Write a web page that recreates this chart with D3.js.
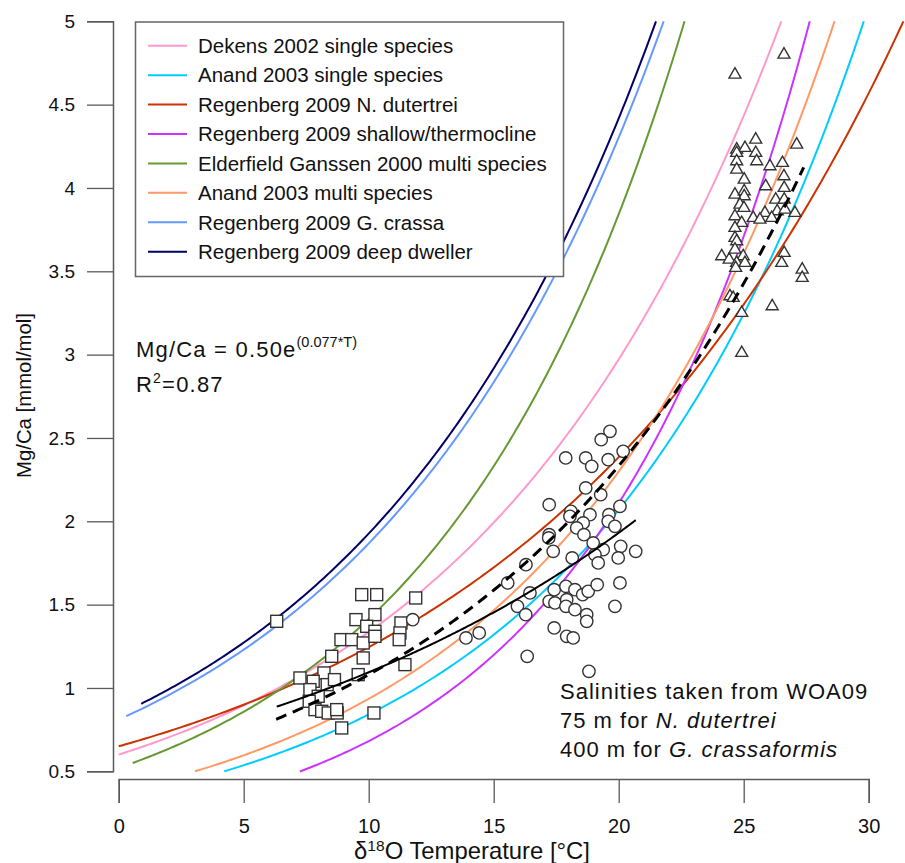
<!DOCTYPE html>
<html>
<head>
<meta charset="utf-8">
<script src="https://cdn.jsdelivr.net/npm/d3@7/dist/d3.min.js"></script>
<style>
  html, body { margin: 0; padding: 0; background: #fff; }
  svg { display: block; font-family: "Liberation Sans", Arial, Helvetica, sans-serif; }
</style>
</head>
<body>
<svg id="chart" width="905" height="863"></svg>
<script>
// Calibration curves: Mg/Ca = pre * exp(expo * T)
const calibNames = [
  "Dekens 2002 single species",
  "Anand 2003 single species",
  "Regenberg 2009 N. dutertrei",
  "Regenberg 2009 shallow/thermocline",
  "Elderfield Ganssen 2000 multi species",
  "Anand 2003 multi species",
  "Regenberg 2009 G. crassa",
  "Regenberg 2009 deep dweller"
];
const calibPre   = [0.60, 0.342, 0.65, 0.22, 0.52, 0.38, 0.81, 0.84];
const calibExpo  = [0.080, 0.090, 0.065, 0.113, 0.100, 0.090, 0.0835, 0.083];
const calibTmin  = [0.0, 4.22, 0.0, 7.25, 0.56, 3.05, 0.3, 0.9];
const calibColor = ["#ff99cc", "#00ccff", "#cc3300", "#cc33ff", "#669933", "#ff9966", "#6699ff", "#000066"];

// Fitted relationships drawn in black
const fitPre   = [0.50, 0.62];
const fitExpo  = [0.077, 0.0568];
const fitTmin  = [6.3, 6.32];
const fitTmax  = [27.4, 20.68];
const fitDash  = ["11,7", null];

// G. crassaformis (squares)
const sqT  = [6.32, 9.72, 10.32, 11.88, 10.25, 9.49, 9.92, 10.25, 11.29, 11.25, 11.22, 8.89, 9.32, 9.78, 10.25,
              8.52, 9.78, 11.45, 9.58, 8.21, 7.25, 7.78, 8.34, 8.63, 7.65, 7.98, 7.62, 7.85, 8.12, 8.38, 8.74,
              8.72, 10.21, 8.92];
const sqMg = [1.40, 1.56, 1.56, 1.54, 1.44, 1.41, 1.37, 1.34, 1.39, 1.33, 1.29, 1.29, 1.29, 1.27, 1.31,
              1.19, 1.18, 1.14, 1.08, 1.09, 1.06, 1.04, 1.02, 1.05, 0.99, 0.95, 0.92, 0.87, 0.86, 0.85, 0.85,
              0.87, 0.85, 0.76];

// N. dutertrei (circles)
const ciT  = [19.65, 19.30, 17.88, 18.68, 18.92, 19.58, 20.18, 18.68, 19.28, 17.22, 18.09, 18.05, 18.85, 19.61,
              19.58, 20.05, 18.58, 19.85, 18.32, 18.61, 17.22, 17.20, 17.38, 18.98, 19.38, 20.08, 20.68, 19.05,
              19.18, 19.98, 18.14, 16.29, 15.56, 16.45, 17.42, 17.89, 18.25, 18.56, 18.78, 19.14, 20.05, 17.22,
              17.45, 17.92, 17.89, 18.25, 18.72, 18.72, 19.85, 15.95, 16.28, 13.89, 14.42, 17.42, 17.92, 18.18,
              16.34, 18.81, 11.76];
const ciMg = [2.54, 2.49, 2.38, 2.38, 2.33, 2.37, 2.42, 2.20, 2.16, 2.10, 2.06, 2.03, 2.04, 2.04,
              2.00, 2.09, 1.99, 1.97, 1.96, 1.92, 1.92, 1.90, 1.82, 1.87, 1.83, 1.85, 1.82, 1.80,
              1.75, 1.78, 1.78, 1.74, 1.63, 1.57, 1.59, 1.61, 1.59, 1.56, 1.58, 1.62, 1.63, 1.52,
              1.51, 1.53, 1.49, 1.47, 1.44, 1.40, 1.49, 1.49, 1.44, 1.30, 1.33, 1.36, 1.31, 1.30,
              1.19, 1.10, 1.41];

// Triangles
const trT  = [26.61, 24.65, 25.48, 27.12, 24.72, 25.05, 25.48, 24.72, 25.52, 24.72, 26.05, 26.55, 24.72, 25.02,
              26.61, 25.88, 26.62, 24.65, 25.02, 25.02, 26.28, 26.62, 24.85, 25.01, 25.85, 26.34, 26.65, 27.05,
              24.65, 25.38, 25.65, 26.12, 24.92, 24.65, 24.65, 24.72, 24.65, 24.12, 24.42, 24.98, 24.72, 25.05,
              24.68, 26.62, 26.52, 27.34, 27.34, 24.45, 24.58, 26.14, 24.92, 24.92];
const trMg = [4.80, 4.68, 4.29, 4.26, 4.23, 4.24, 4.21, 4.21, 4.16, 4.16, 4.13, 4.15, 4.11, 4.05,
              4.07, 4.01, 4.00, 3.96, 3.98, 3.95, 3.93, 3.93, 3.90, 3.88, 3.85, 3.86, 3.87, 3.85,
              3.83, 3.82, 3.81, 3.82, 3.79, 3.76, 3.70, 3.68, 3.63, 3.59, 3.57, 3.59, 3.55, 3.55,
              3.52, 3.61, 3.55, 3.51, 3.46, 3.35, 3.34, 3.29, 3.25, 3.01];

const xTicks = [0, 5, 10, 15, 20, 25, 30];
const yTicks = [0.5, 1, 1.5, 2, 2.5, 3, 3.5, 4, 4.5, 5];

const svg = d3.select("#chart");
const x = d3.scaleLinear().domain([0, 30]).range([118.7, 868.7]);
const y = d3.scaleLinear().domain([0.5, 5]).range([771.3, 21.3]);
const axisColor = "#5a5a5a";

// ---- calibration curves ----
const line = d3.line().x(d => x(d[0])).y(d => y(d[1]));
function expCurve(pre, expo, t0, t1) {
  const pts = [];
  const n = 200;
  for (let i = 0; i <= n; i++) {
    const t = t0 + (t1 - t0) * i / n;
    pts.push([t, pre * Math.exp(expo * t)]);
  }
  return pts;
}
const gCurves = svg.append("g");
calibNames.forEach((name, i) => {
  const tEnd = Math.log(5 / calibPre[i]) / calibExpo[i];
  gCurves.append("path")
    .attr("d", line(expCurve(calibPre[i], calibExpo[i], calibTmin[i], tEnd)))
    .attr("fill", "none")
    .attr("stroke", calibColor[i])
    .attr("stroke-width", 2);
});

// ---- data markers ----
const mk = svg.append("g").attr("fill", "#fff").attr("stroke", "#333").attr("stroke-width", 1.4);
const sqSide = 12;
mk.selectAll("rect.sq").data(d3.range(sqT.length)).join("rect")
  .attr("x", i => x(sqT[i]) - sqSide / 2)
  .attr("y", i => y(sqMg[i]) - sqSide / 2)
  .attr("width", sqSide).attr("height", sqSide);
mk.selectAll("circle.ci").data(d3.range(ciT.length)).join("circle")
  .attr("cx", i => x(ciT[i])).attr("cy", i => y(ciMg[i])).attr("r", 6.2);
const tri = d3.symbol().type(d3.symbolTriangle).size(62);
mk.selectAll("path.tr").data(d3.range(trT.length)).join("path")
  .attr("d", tri)
  .attr("transform", i => `translate(${x(trT[i])},${y(trMg[i])})`);

// ---- fitted lines ----
fitPre.forEach((pre, i) => {
  svg.append("path")
    .attr("d", line(expCurve(pre, fitExpo[i], fitTmin[i], fitTmax[i])))
    .attr("fill", "none")
    .attr("stroke", "#000")
    .attr("stroke-width", fitDash[i] ? 3 : 2)
    .attr("stroke-dasharray", fitDash[i]);
});

// ---- axes ----
const yAxisX = 113, xAxisY = 779;
const yMinor = d3.range(5, 51).map(v => v / 10);
const gy = svg.append("g").attr("transform", `translate(${yAxisX},0)`);
gy.call(d3.axisLeft(y).tickValues(yMinor).tickSize(14).tickFormat(""));
gy.call(d3.axisLeft(y).tickValues(yTicks).tickSize(26).tickPadding(12).tickFormat(d3.format("")));
gy.selectAll("path.domain").attr("stroke", axisColor).attr("stroke-width", 1.5);
gy.selectAll("line").attr("stroke", axisColor).attr("stroke-width", 1.3);
gy.selectAll("text").attr("fill", "#111").style("font-size", "19px").style("font-family", "Liberation Sans, Arial, sans-serif");

const xMinor = d3.range(0, 31);
const gx = svg.append("g").attr("transform", `translate(0,${xAxisY})`);
gx.call(d3.axisBottom(x).tickValues(xMinor).tickSize(12).tickFormat(""));
gx.call(d3.axisBottom(x).tickValues(xTicks).tickSize(24).tickPadding(16).tickFormat(d3.format("")));
gx.selectAll("path.domain").attr("stroke", axisColor).attr("stroke-width", 1.5);
gx.selectAll("line").attr("stroke", axisColor).attr("stroke-width", 1.3);
gx.selectAll("text").attr("fill", "#111").style("font-size", "20px").style("font-family", "Liberation Sans, Arial, sans-serif");

// axis titles, set in a condensed face by squeezing horizontally to a fixed length
function condensed(sel, targetLen) {
  const w = sel.node().getBBox().width;
  return targetLen / w;
}
const yt = svg.append("text")
  .attr("text-anchor", "middle")
  .style("font-size", "21px")
  .attr("fill", "#111")
  .text("Mg/Ca [mmol/mol]");
const ys = condensed(yt, 165);
yt.attr("transform", `translate(31,395.5) rotate(-90) scale(${ys},1)`);

const xt = svg.append("text")
  .attr("text-anchor", "middle")
  .style("font-size", "23px")
  .attr("fill", "#111");
xt.append("tspan").text("δ");
xt.append("tspan").attr("dy", -8).style("font-size", "15px").text("18");
xt.append("tspan").attr("dy", 8).text("O Temperature [°C]");
const xs = condensed(xt, 236);
xt.attr("transform", `translate(472,859) scale(${xs},1)`);

// ---- legend ----
const lg = svg.append("g");
lg.append("rect")
  .attr("x", 135.5).attr("y", 22).attr("width", 428).attr("height", 254.5)
  .attr("fill", "#fff").attr("stroke", "#666").attr("stroke-width", 1.5);
calibNames.forEach((name, i) => {
  const cy = 45.7 + i * 29.43;
  lg.append("line").attr("x1", 148).attr("x2", 187).attr("y1", cy).attr("y2", cy)
    .attr("stroke", calibColor[i]).attr("stroke-width", 2);
  lg.append("text").attr("x", 198).attr("y", cy + 7.3)
    .style("font-size", "20.5px").attr("fill", "#111").text(name);
});

// ---- annotations ----
const eq = svg.append("text").attr("x", 136).attr("y", 357).attr("fill", "#111");
eq.append("tspan").style("font-size", "22px").style("letter-spacing", "1.2px").text("Mg/Ca = 0.50e");
eq.append("tspan").attr("dy", -10).style("font-size", "14.5px").text("(0.077*T)");
const r2 = svg.append("text").attr("x", 136).attr("y", 392).style("font-size", "22px").style("letter-spacing", "1.2px").attr("fill", "#111");
r2.append("tspan").text("R");
r2.append("tspan").attr("dy", -9).style("font-size", "14px").text("2");
r2.append("tspan").attr("dy", 9).text("=0.87");

const note = svg.append("g").style("font-size", "22px").style("letter-spacing", "1px").attr("fill", "#111");
note.append("text").attr("x", 560).attr("y", 699).text("Salinities taken from WOA09");
const n2 = note.append("text").attr("x", 560).attr("y", 728);
n2.append("tspan").text("75 m for ");
n2.append("tspan").style("font-style", "italic").text("N. dutertrei");
const n3 = note.append("text").attr("x", 560).attr("y", 757);
n3.append("tspan").text("400 m for ");
n3.append("tspan").style("font-style", "italic").text("G. crassaformis");
</script>
</body>
</html>
